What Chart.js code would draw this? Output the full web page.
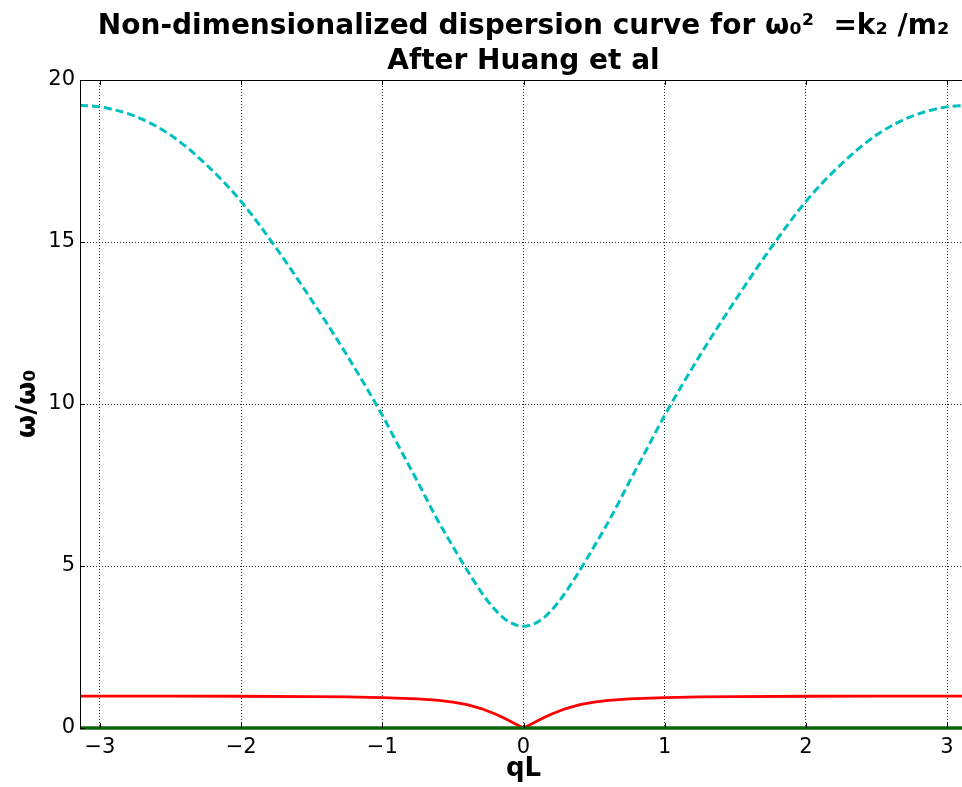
<!DOCTYPE html>
<html>
<head>
<meta charset="utf-8">
<script src="https://cdn.jsdelivr.net/npm/chart.js@4/dist/chart.umd.min.js"></script>
<style>
html, body { margin: 0; padding: 0; background: #fff; overflow: hidden; }
#wrap { width: 968px; height: 787px; }
</style>
</head>
<body>
<div id="wrap"><canvas id="c" width="968" height="787"></canvas></div>
<script>
// ---- data ----
const qOptical = [-3.1416, -3.0, -2.75, -2.5, -2.25, -2.0, -1.75, -1.5, -1.25, -1.0, -0.875, -0.75, -0.625, -0.5, -0.375, -0.25, -0.125, 0,
                  0.125, 0.25, 0.375, 0.5, 0.625, 0.75, 0.875, 1.0, 1.25, 1.5, 1.75, 2.0, 2.25, 2.5, 2.75, 3.0, 3.1416];
const omegaOptical = [19.22, 19.17, 18.88, 18.3, 17.4, 16.25, 14.8, 13.2, 11.5, 9.65, 8.62, 7.6, 6.55, 5.6, 4.7, 3.9, 3.34, 3.14,
                      3.34, 3.9, 4.7, 5.6, 6.55, 7.6, 8.62, 9.65, 11.5, 13.2, 14.8, 16.25, 17.4, 18.3, 18.88, 19.17, 19.22];

const qAcoustic = [-3.1416, -2.5, -2.0, -1.5, -1.25, -1.0, -0.75, -0.6, -0.5, -0.4, -0.3, -0.2, -0.15, -0.1, -0.05, 0,
                   0.05, 0.1, 0.15, 0.2, 0.3, 0.4, 0.5, 0.6, 0.75, 1.0, 1.25, 1.5, 2.0, 2.5, 3.1416];
const omegaAcoustic = [0.985, 0.985, 0.98, 0.97, 0.96, 0.94, 0.9, 0.85, 0.8, 0.72, 0.6, 0.43, 0.33, 0.22, 0.11, 0,
                       0.11, 0.22, 0.33, 0.43, 0.6, 0.72, 0.8, 0.85, 0.9, 0.94, 0.96, 0.97, 0.98, 0.985, 0.985];

const qZero = [-3.1416, 3.1416];
const omegaZero = [0, 0];

const xTicks = [-3, -2, -1, 0, 1, 2, 3];
const yTicks = [0, 5, 10, 15, 20];

const titleLines = ['Non-dimensionalized dispersion curve for ω₀²  =k₂ /m₂', 'After Huang et al'];
const xTitle = 'qL';
const yTitle = 'ω/ω₀';

// ---- build ----
const toPts = (xs, ys) => xs.map((x, i) => ({ x: x, y: ys[i] }));
const FONT = "'DejaVu Sans', sans-serif";

const framePlugin = {
  id: 'frame',
  afterDraw(chart) {
    const { ctx, chartArea: a, scales } = chart;
    ctx.save();
    ctx.strokeStyle = '#000';
    ctx.lineWidth = 1;
    ctx.beginPath();
    ctx.moveTo(a.left + 0.5, a.bottom);
    ctx.lineTo(a.left + 0.5, a.top + 0.5);
    ctx.lineTo(a.right - 0.5, a.top + 0.5);
    ctx.lineTo(a.right - 0.5, a.bottom);
    const L = 5;
    xTicks.forEach(v => {
      const px = Math.round(scales.x.getPixelForValue(v)) + 0.5;
      ctx.moveTo(px, a.bottom); ctx.lineTo(px, a.bottom - L);
      ctx.moveTo(px, a.top); ctx.lineTo(px, a.top + L);
    });
    yTicks.forEach(v => {
      const py = Math.round(scales.y.getPixelForValue(v)) + 0.5;
      ctx.moveTo(a.left, py); ctx.lineTo(a.left + L, py);
      ctx.moveTo(a.right, py); ctx.lineTo(a.right - L, py);
    });
    ctx.stroke();
    ctx.restore();
  }
};

new Chart(document.getElementById('c'), {
  type: 'line',
  data: {
    datasets: [
      { data: toPts(qZero, omegaZero), borderColor: '#0a650a', borderWidth: 3.5, pointRadius: 0, tension: 0, clip: false },
      { data: toPts(qAcoustic, omegaAcoustic), borderColor: '#ff0000', borderWidth: 2.8, pointRadius: 0, tension: 0 },
      { data: toPts(qOptical, omegaOptical), borderColor: '#00bfbf', borderWidth: 3, borderDash: [8, 4], pointRadius: 0, cubicInterpolationMode: 'monotone' }
    ]
  },
  options: {
    responsive: false,
    animation: false,
    layout: { padding: { left: 0, right: 1, top: 0, bottom: 0 } },
    plugins: {
      legend: { display: false },
      tooltip: { enabled: false },
      title: {
        display: true,
        fullSize: false,
        text: titleLines,
        color: '#000',
        font: { family: FONT, size: 28, weight: 'bold', lineHeight: '35px' },
        padding: { top: 9, bottom: 1 }
      }
    },
    scales: {
      x: {
        type: 'linear',
        min: -Math.PI,
        max: Math.PI,
        afterBuildTicks: s => { s.ticks = xTicks.map(v => ({ value: v })); },
        afterFit: s => { s.height = 59; },
        ticks: {
          color: '#000',
          font: { family: FONT, size: 21 },
          padding: 7,
          maxRotation: 0,
          callback: v => (v < 0 ? '\u2212' + Math.abs(v) : String(v))
        },
        grid: { color: 'rgba(0,0,0,0.85)', lineWidth: 1, drawTicks: false },
        border: { display: true, color: '#000', width: 1, dash: [1, 2] },
        title: { display: true, text: xTitle, color: '#000', font: { family: FONT, size: 26, weight: 'bold' }, padding: { top: 0, bottom: 2 } }
      },
      y: {
        type: 'linear',
        min: 0,
        max: 20,
        afterBuildTicks: s => { s.ticks = yTicks.map(v => ({ value: v })); },
        afterFit: s => { s.width = 80; },
        ticks: {
          color: '#000',
          font: { family: FONT, size: 21 },
          padding: 5,
          callback: v => String(v)
        },
        grid: { color: 'rgba(0,0,0,0.85)', lineWidth: 1, drawTicks: false },
        border: { display: true, color: '#000', width: 1, dash: [1, 2] },
        title: { display: true, text: yTitle, color: '#000', font: { family: FONT, size: 27, weight: 'bold' }, padding: { top: 12, bottom: 0 } }
      }
    }
  },
  plugins: [framePlugin]
});
</script>
</body>
</html>
